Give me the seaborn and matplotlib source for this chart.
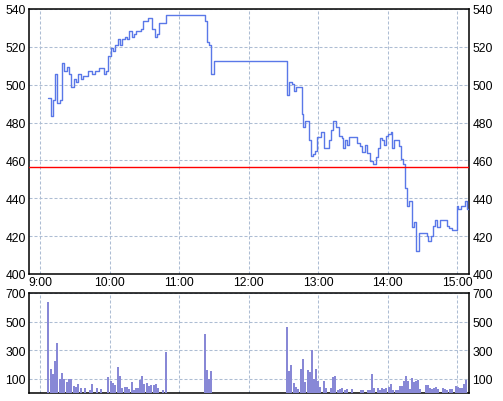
import numpy as np
import pandas as pd
import matplotlib
matplotlib.use("Agg")
import matplotlib.pyplot as plt
import seaborn as sns

# ---------------- data (minutes after 9:00) ----------------
price_times = [6.9, 9.2, 11.2, 12.7, 14.7, 17.3, 19.0, 20.7, 23.1, 24.8, 26.5, 29.4, 30.8,
               32.6, 35.1, 36.9, 40.9, 44.6, 47.5, 50.9, 55.0, 56.7, 58.5, 61.0, 62.8, 64.5,
               66.8, 68.8, 70.5, 73.1, 74.9, 76.6, 79.2, 80.9, 82.6, 86.9, 88.7, 93.0, 96.7,
               99.0, 100.8, 102.5, 108.5, 142.2, 144.2, 145.9, 147.7, 150.3,
               213.3, 215.0, 217.1, 219.1, 220.8, 225.7, 227.1, 228.8, 231.8, 233.5, 235.2,
               237.2, 239.2, 242.7, 245.3, 249.3, 251.0, 253.0, 255.1, 257.9, 260.3, 261.1,
               263.1, 264.8, 266.6, 273.2, 276.1, 277.5, 280.4, 281.9, 284.7, 287.0, 289.9,
               291.4, 293.4, 295.3, 296.8, 298.5, 300.5, 302.8, 304.0, 305.7, 309.5, 311.2,
               313.5, 315.0, 317.0, 318.7, 321.3, 323.0, 324.7, 327.3, 333.7, 335.1, 337.1,
               338.9, 340.8, 342.8, 345.2, 351.5, 353.2, 355.3, 359.6, 361.0, 363.0, 366.8,
               368.7, 370.2]
price_values = [492.8, 483.3, 492.0, 505.5, 490.2, 491.7, 511.3, 507.0, 509.5, 505.5, 498.6, 502.9, 501.4,
                505.5, 503.0, 504.4, 507.1, 505.5, 507.1, 508.7, 505.5, 507.1, 515.3, 519.6, 518.0, 520.8,
                524.0, 520.8, 524.0, 525.2, 524.0, 528.2, 525.0, 526.6, 528.2, 529.3, 533.5, 535.1, 529.3,
                525.0, 526.6, 532.4, 536.7, 533.5, 522.4, 520.8, 505.5, 512.4,
                494.6, 501.3, 500.4, 496.8, 498.6, 484.5, 477.5, 480.7, 470.8, 462.3, 463.4,
                465.2, 472.2, 474.9, 466.4, 470.8, 476.2, 480.7, 477.5, 473.1, 471.9, 466.4,
                470.8, 468.2, 472.2, 469.1, 467.8, 464.3, 468.2, 463.8, 459.9, 458.1, 462.0,
                466.6, 471.9, 470.8, 468.2, 473.1, 474.0, 474.9, 466.4, 470.8, 467.8, 460.8,
                458.1, 445.3, 435.8, 438.5, 424.7, 427.4, 412.1, 421.6, 420.2, 417.6, 420.2,
                425.6, 428.5, 424.7, 428.5, 425.6, 424.3, 423.3, 435.8, 434.4, 435.8, 438.5,
                434.4, 434.4]

vol_times = [6.4, 9.2, 11.0, 12.7, 14.4, 16.7, 18.4, 20.2, 23.1, 24.8, 26.5, 28.8, 30.5, 32.3,
             35.1, 38.6, 42.6, 44.4, 49.0, 52.4, 58.2, 61.1, 62.8, 64.5, 66.8, 68.5, 70.3,
             73.1, 74.9, 76.6, 78.9, 80.6, 82.4, 84.6, 86.4, 88.1, 89.9, 92.2, 93.9, 95.6,
             98.5, 100.2, 101.9, 106.0, 108.3, 142.2, 144.0, 145.7, 147.4,
             213.0, 214.8, 216.5, 218.8, 220.5, 222.3, 225.1, 226.9, 228.6, 230.9, 232.6,
             234.4, 236.7, 238.4, 240.1, 241.8, 244.7, 246.4, 251.0, 252.8, 254.5, 257.4,
             259.1, 260.8, 263.1, 264.8, 268.9, 276.9, 278.7, 282.7, 284.4, 286.2, 288.5,
             291.4, 293.1, 294.8, 296.5, 298.3, 301.1, 302.8, 304.6, 306.9, 308.6, 310.4,
             312.1, 313.8, 315.6, 317.3, 319.0, 320.7, 322.5, 324.2, 325.9, 327.6, 332.8,
             334.5, 336.3, 338.0, 339.7, 341.5, 343.2, 347.8, 349.5, 351.2, 354.1, 355.8,
             358.7, 360.4, 362.2, 364.4, 366.2, 367.9]
vol_values = [639, 165, 130, 223, 353, 100, 143, 100, 75, 95, 95, 47, 40, 61,
              33, 33, 19, 61, 33, 26, 109, 81, 68, 54, 179, 116, 33,
              40, 40, 26, 75, 19, 33, 33, 88, 116, 61, 68, 47, 54,
              54, 61, 33, 19, 286, 411, 160, 95, 153,
              465, 151, 193, 68, 40, 26, 165, 235, 75, 158, 144,
              298, 95, 165, 81, 40, 81, 33, 33, 109, 116, 19,
              26, 33, 19, 26, 26, 19, 19, 19, 19, 130, 33,
              33, 19, 33, 26, 33, 40, 61, 19, 19, 19, 47,
              47, 81, 116, 81, 26, 102, 75, 81, 88, 26, 54,
              54, 33, 26, 33, 40, 26, 33, 26, 19, 26, 26,
              47, 40, 33, 33, 61, 88]

ref_price = 456.4
hour_ticks = [0, 60, 120, 180, 240, 300, 360]
hour_labels = ["9:00", "10:00", "11:00", "12:00", "13:00", "14:00", "15:00"]
price_ticks = [400, 420, 440, 460, 480, 500, 520, 540]
vol_ticks = [100, 300, 500, 700]

# ---------------- style ----------------
sns.set_theme(style="white")
plt.rcParams["font.family"] = ["Liberation Sans", "DejaVu Sans"]
LINE = "#5a78e8"
BAR = "#8888d6"
GRID = "#adbdd3"
FS = 8.7

W, H = 503, 402
fig = plt.figure(figsize=(W / 100, H / 100), dpi=100)
fig.patch.set_facecolor("white")
L, R = 29.3, 469.0
ax1 = fig.add_axes([L / W, 1 - 275 / H, (R - L) / W, 265 / H])
ax2 = fig.add_axes([L / W, 1 - 394 / H, (R - L) / W, 100 / H])

price_df = pd.DataFrame({"t": price_times, "p": price_values})
sns.lineplot(data=price_df, x="t", y="p", drawstyle="steps-post", color=LINE,
             lw=1.0, estimator=None, ax=ax1, zorder=3)
ax1.axhline(ref_price, color="red", lw=1.0, zorder=4)

ax2.bar(vol_times, vol_values, width=1.75, color=BAR, lw=0, zorder=3)

for ax in (ax1, ax2):
    ax.set_xlim(-9.5, 370.2)
    ax.set_xticks(hour_ticks)
    ax.grid(True, color=GRID, lw=0.75, linestyle=(0, (2.9, 1.9)))
    ax.set_axisbelow(True)
    for s in ax.spines.values():
        s.set_color("black")
        s.set_linewidth(1.1)
        s.set_visible(True)
    ax.set_xlabel("")
    ax.set_ylabel("")
    ax.tick_params(axis="both", length=0, labelsize=FS, colors="black")
    ax.tick_params(axis="y", labelleft=True, labelright=True, pad=2.5)
    ax.set_facecolor("white")

ax1.set_ylim(400, 540)
ax1.set_yticks(price_ticks)
ax1.set_xticklabels(hour_labels)
ax1.tick_params(axis="x", pad=1.5)

ax2.set_ylim(0, 700)
ax2.set_yticks(vol_ticks)
ax2.tick_params(axis="x", labelbottom=False)

fig.savefig("out.png", dpi=100, facecolor="white")
